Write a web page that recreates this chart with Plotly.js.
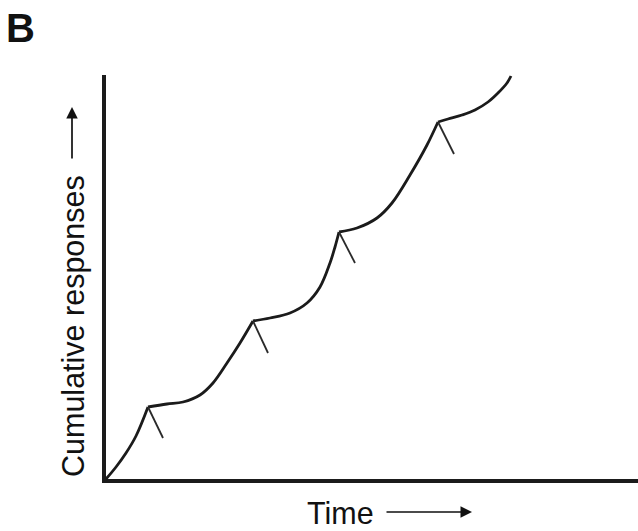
<!DOCTYPE html>
<html>
<head>
<meta charset="utf-8">
<script src="https://cdn.plot.ly/plotly-3.0.1.min.js"></script>
<style>
  html, body { margin: 0; padding: 0; background: #fff; }
  #chart { width: 638px; height: 531px; }
</style>
</head>
<body>
<div id="chart"></div>
<script>
// Cumulative record (fixed-interval style scallops), arbitrary units
const curveTime = [0, 10, 20, 30, 42, 61, 77, 94, 107, 121, 134, 147, 164, 184, 201, 214, 224, 229, 233, 251, 271, 286, 304, 321, 332, 342, 356, 369, 382, 392, 401, 405];
const curveResponses = [0, 12, 26, 43, 72, 75, 77, 84, 96, 116, 136, 158, 161, 166, 176, 192, 216, 232, 247, 251, 261, 276, 304, 334, 357, 360, 364, 369, 377, 386, 396, 403];
// indices of the reinforcement points (sharp corners)
const peakIndex = [4, 11, 18, 24];
// end points of the reinforcement hatch marks
const markTime = [57, 162, 249, 348];
const markResponses = [41, 126, 216, 325];

const xLabel = 'Time';
const yLabel = 'Cumulative responses';
const panelLabel = 'B';

const ink = '#1b1b1b';
const traces = [];
const cuts = [0].concat(peakIndex).concat([curveTime.length - 1]);
for (let s = 0; s < cuts.length - 1; s++) {
  const a = cuts[s], b = cuts[s + 1];
  traces.push({
    x: curveTime.slice(a, b + 1),
    y: curveResponses.slice(a, b + 1),
    mode: 'lines',
    line: { color: ink, width: 2.8, shape: 'spline', smoothing: 1 },
    hoverinfo: 'skip', showlegend: false
  });
}
const hx = [], hy = [];
peakIndex.forEach((pi, i) => {
  hx.push(curveTime[pi], markTime[i], null);
  hy.push(curveResponses[pi], markResponses[i], null);
});
traces.push({
  x: hx, y: hy, mode: 'lines',
  line: { color: '#2a2a2a', width: 1.8 },
  hoverinfo: 'skip', showlegend: false
});

const L = 106, T = 75, W = 532, H = 404;
const px2x = p => (p - L) / W;
const py2y = p => (T + H - p) / H;
const font = 'Liberation Sans, Arial, Helvetica, sans-serif';

const layout = {
  width: 638, height: 531,
  margin: { l: L, r: 0, t: T, b: 531 - T - H },
  paper_bgcolor: '#fff', plot_bgcolor: '#fff',
  showlegend: false,
  title: {
    text: '<b>' + panelLabel + '</b>',
    font: { family: font, size: 40, color: '#111' },
    x: 6 / 638, xref: 'container', xanchor: 'left',
    y: 1 - 28 / 531, yref: 'container', yanchor: 'middle'
  },
  xaxis: {
    range: [0, 532], showgrid: false, zeroline: false, showticklabels: false,
    ticks: '', showline: true, linewidth: 4, linecolor: ink, fixedrange: true
  },
  yaxis: {
    range: [0, 404], showgrid: false, zeroline: false, showticklabels: false,
    ticks: '', showline: true, linewidth: 4, linecolor: ink, fixedrange: true
  },
  annotations: [
    {
      text: xLabel, xref: 'paper', yref: 'paper',
      x: px2x(340), y: py2y(513), xanchor: 'center', yanchor: 'middle',
      showarrow: false, font: { family: font, size: 30.5, color: '#111' }
    },
    {
      text: '', xref: 'paper', yref: 'paper',
      x: px2x(472), y: py2y(512), ax: -87, ay: 0,
      showarrow: true, arrowhead: 2, arrowsize: 1.35, arrowwidth: 1.7, arrowcolor: '#111'
    },
    {
      text: yLabel, xref: 'paper', yref: 'paper', textangle: -90,
      x: px2x(73), y: py2y(326), xanchor: 'center', yanchor: 'middle',
      showarrow: false, font: { family: font, size: 30.5, color: '#111' }
    },
    {
      text: '', xref: 'paper', yref: 'paper',
      x: px2x(72), y: py2y(107), ax: 0, ay: 53,
      showarrow: true, arrowhead: 2, arrowsize: 1.35, arrowwidth: 1.7, arrowcolor: '#111'
    }
  ]
};

Plotly.newPlot('chart', traces, layout, { displayModeBar: false, staticPlot: true });
</script>
</body>
</html>
